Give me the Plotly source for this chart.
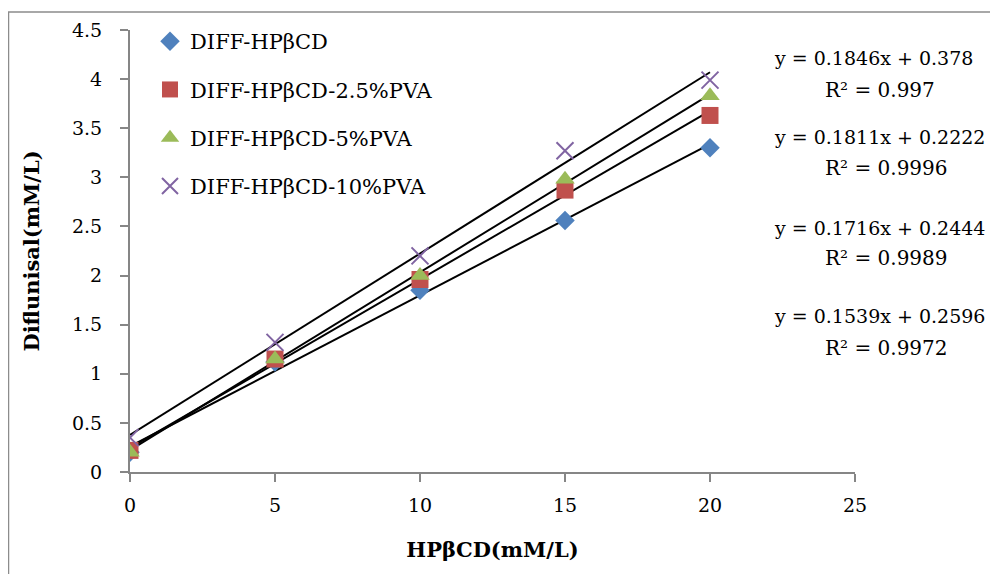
import plotly.graph_objects as go

x_conc = [0, 5, 10, 15, 20]
names = ["DIFF-HPβCD", "DIFF-HPβCD-2.5%PVA", "DIFF-HPβCD-5%PVA", "DIFF-HPβCD-10%PVA"]
y_blue = [0.20, 1.12, 1.85, 2.56, 3.30]
y_red = [0.22, 1.15, 1.96, 2.87, 3.63]
y_green = [0.20, 1.15, 2.00, 2.98, 3.83]
y_purple = [0.35, 1.32, 2.20, 3.27, 3.99]
series = [y_blue, y_red, y_green, y_purple]

slopes = [0.1539, 0.1716, 0.1811, 0.1846]
intercepts = ["0.2596", "0.2444", "0.2222", "0.378"]
r2 = ["0.9972", "0.9989", "0.9996", "0.997"]

colors = ["#4F81BD", "#C0504D", "#9BBB59", "#8064A2"]
symbols = ["diamond", "square", "triangle-up", "x-thin-open"]
sizes = [15, 17, 17, 17]

FONT = "DejaVu Serif"

fig = go.Figure()
for i in range(4):
    xs = [x_conc[0], x_conc[-1]]
    ys = [slopes[i] * v + float(intercepts[i]) for v in xs]
    fig.add_trace(go.Scatter(x=xs, y=ys, mode="lines", line=dict(color="black", width=2),
                             showlegend=False, hoverinfo="skip"))
for i in range(4):
    fig.add_trace(go.Scatter(
        x=x_conc, y=series[i], mode="markers", name=names[i], legendgroup=names[i],
        marker=dict(color=colors[i], symbol=symbols[i], size=sizes[i],
                    line=dict(color=colors[i], width=2 if i == 3 else 0))))

# screen-pixel helpers (plot area spans x 130..855, y 30..472 on screen)
def py(p):
    return (472 - p) / 442.0
def px(p):
    return (p - 130) / 725.0

eq_rows = [(3, 58, 90), (2, 137, 168), (1, 228, 258), (0, 316, 348)]
for idx, ye, yr in eq_rows:
    fig.add_annotation(x=px(772), y=py(ye), xref="paper", yref="paper", xanchor="left", yanchor="middle",
                       text=f"y = {slopes[idx]}x + {intercepts[idx]}", showarrow=False,
                       font=dict(family=FONT, size=19, color="black"))
    fig.add_annotation(x=px(823), y=py(yr), xref="paper", yref="paper", xanchor="left", yanchor="middle",
                       text=f"R² = {r2[idx]}", showarrow=False,
                       font=dict(family=FONT, size=20, color="black"))

fig.add_shape(type="rect", xref="paper", yref="paper", x0=px(8.5), y0=-0.6, x1=1.4, y1=py(12),
              line=dict(color="#8c8c8c", width=1.5), layer="below")

fig.update_layout(
    width=990, height=566,
    margin=dict(l=122, r=143, t=22, b=102),
    paper_bgcolor="white", plot_bgcolor="white",
    font=dict(family=FONT, size=19, color="black"),
    showlegend=True,
    legend=dict(x=px(150), y=py(21), xanchor="left", yanchor="top", bgcolor="rgba(0,0,0,0)",
                traceorder="grouped", tracegroupgap=18, font=dict(family=FONT, size=21),
                itemwidth=30),
    xaxis=dict(range=[0, 25], dtick=5, tick0=0, showgrid=False, zeroline=False,
               showline=True, linecolor="#868686", linewidth=2, ticks="outside", ticklen=8,
               tickcolor="#868686", tickwidth=2, tickfont=dict(size=19), ticklabelstandoff=7,
               title=dict(text="<b>HPβCD(mM/L)</b>", font=dict(size=21), standoff=28)),
    yaxis=dict(range=[0, 4.5], dtick=0.5, tick0=0, showgrid=False, zeroline=False,
               showline=True, linecolor="#868686", linewidth=2, ticks="outside", ticklen=8,
               tickcolor="#868686", tickwidth=2, tickfont=dict(size=19), ticklabelstandoff=14,
               title=dict(text="<b>Diflunisal(mM/L)</b>", font=dict(size=21), standoff=27)),
)

fig.write_html("out.html")
